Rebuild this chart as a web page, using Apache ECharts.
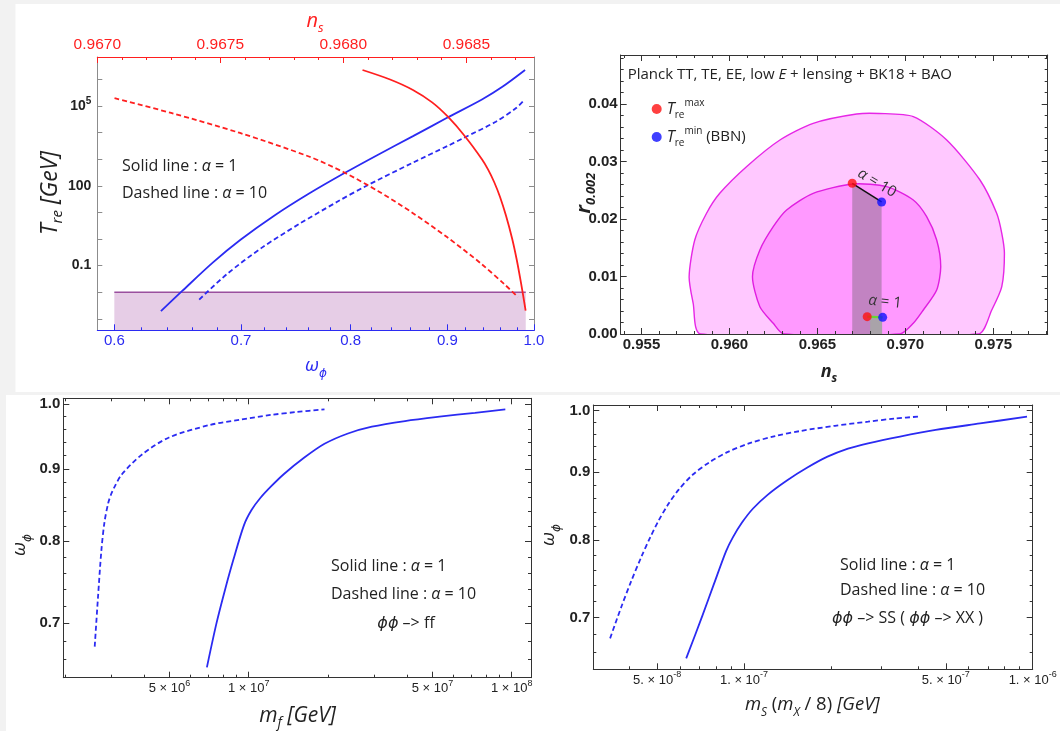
<!DOCTYPE html>
<html><head><meta charset="utf-8">
<script src="https://cdn.jsdelivr.net/npm/echarts@6/dist/echarts.min.js"></script>
<style>html,body{margin:0;padding:0;background:#f2f2f2;}#chart{width:1060px;height:731px;}</style>
</head><body><div id="chart"></div>
<script>
// ================= DATA =================
// --- Top-left: T_re vs n_s (red, top axis) and vs omega (blue, bottom axis)
const nsTopLabels = [0.9670, 0.9675, 0.9680, 0.9685];
const omegaLabels = [0.6, 0.7, 0.8, 0.9, 1.0];
const tReLabels = [0.1, 100, 1e5];
const redSolidNs = [0.968078,0.968190,0.968283,0.968361,0.968426,0.968495,0.968564,0.968588,0.968613,0.968637,0.968661,0.968686,0.968704,0.968722,0.968741];
const redSolidT  = [2.25e6,9.9e5,4.0e5,1.36e5,3.85e4,7.13e3,975,414,139,37.9,7.59,1.05,0.182,0.0230,0.00205];
const redDashNs  = [0.96707,0.96730,0.96758,0.96786,0.96800,0.96814,0.96828,0.96842,0.96856,0.96866,0.96871];
const redDashT   = [1.95e5,5.46e4,9.66e3,1.26e3,330,64.3,9.8,1.21,0.119,0.018,0.0065];
const blueSolidW = [0.6350,0.6517,0.6766,0.6996,0.7298,0.7609,0.7936,0.8276,0.8631,0.9001,0.9386,0.9627,0.9892];
const blueSolidT = [0.00196,0.0112,0.132,0.933,7.98,52.2,295,1510,7330,3.66e4,1.75e5,5.36e5,2.24e6];
const blueDashW  = [0.6653,0.6880,0.7175,0.7516,0.7870,0.8138,0.8631,0.9001,0.9173,0.9546,0.9789,0.9880];
const blueDashT  = [0.00527,0.0475,0.455,3.72,25.0,92.5,745,3130,6150,2.55e4,8.55e4,1.65e5];
const bbnBandW = [0.6, 0.99];
const bbnT = 0.01;

// --- Top-right: Planck contours (n_s, r)
const outerNs = [0.95836,0.95794,0.95771,0.95803,0.9587,0.95945,0.96097,0.96287,0.96476,0.96723,0.9685,0.97045,0.97235,0.97424,0.97519,0.97548,0.97563,0.97548,0.97491,0.97415];
const outerR  = [0,0.00534,0.00997,0.01635,0.021,0.02447,0.0291,0.03374,0.03664,0.03826,0.03835,0.0378,0.03374,0.02678,0.021,0.01751,0.01403,0.00823,0.00417,0];
const innerNs = [0.96309,0.96249,0.96173,0.96131,0.96173,0.96249,0.96325,0.96476,0.96704,0.96894,0.97045,0.97121,0.97178,0.97201,0.97178,0.97102,0.97045,0.96969];
const innerR  = [0,0.00186,0.00475,0.00997,0.01461,0.01866,0.02157,0.02447,0.02609,0.02562,0.0233,0.0204,0.01635,0.0117,0.00765,0.00417,0.00186,0];
const tMaxNs = [0.96698, 0.96783], tMaxR = [0.02621, 0.00301];   // alpha = 10, alpha = 1
const tMinNs = [0.96865, 0.96871], tMinR = [0.02296, 0.0029];
const smallBandNs = [0.9680, 0.96868], smallBandR = 0.0028;
const nsLabels = [0.955, 0.960, 0.965, 0.970, 0.975];
const rLabels = [0.00, 0.01, 0.02, 0.03, 0.04];

// --- Bottom-left: omega vs m_f
const mfDashM  = [2.597e6,2.673e6,2.754e6,2.829e6,2.923e6,2.995e6,3.075e6,3.290e6,3.930e6,4.977e6,7.10e6,9.27e6,1.210e7,1.527e7,1.942e7];
const mfDashW  = [0.6740,0.7307,0.7888,0.8253,0.8513,0.8631,0.8724,0.8917,0.9212,0.9470,0.9664,0.9748,0.9823,0.9871,0.9914];
const mfSolidM = [6.935e6,7.54e6,8.125e6,8.737e6,9.596e6,1.025e7,1.107e7,1.216e7,1.362e7,1.623e7,1.942e7,2.385e7,2.941e7,3.93e7,5.315e7,7.25e7,9.46e7];
const mfSolidW = [0.6517,0.7000,0.7391,0.7759,0.8213,0.8416,0.8582,0.8745,0.8924,0.9162,0.9373,0.9532,0.9638,0.9727,0.9796,0.9858,0.9914];
const mfLabels = [5e6, 1e7, 5e7, 1e8];

// --- Bottom-right: omega vs m_S
const msDashM  = [3.437e-8,3.758e-8,4.061e-8,4.418e-8,4.725e-8,5.056e-8,5.454e-8,5.94e-8,6.656e-8,7.574e-8,8.803e-8,1.046e-7,1.281e-7,1.569e-7,2.066e-7,2.691e-7,3.334e-7,4.087e-7];
const msDashW  = [0.6756,0.7131,0.7449,0.7781,0.8033,0.8271,0.8506,0.8728,0.8958,0.9147,0.9315,0.9455,0.9572,0.9656,0.9743,0.9812,0.9866,0.9901];
const msSolidM = [6.306e-8,7.177e-8,7.870e-8,8.670e-8,9.160e-8,9.842e-8,1.075e-7,1.210e-7,1.408e-7,1.652e-7,1.946e-7,2.292e-7,2.691e-7,3.470e-7,4.613e-7,6.570e-7,9.557e-7];
const msSolidW = [0.6526,0.7025,0.7420,0.7852,0.8043,0.8247,0.8449,0.8654,0.8867,0.9063,0.9238,0.9368,0.9454,0.9564,0.9673,0.9782,0.9897];
const msLabels = [5e-8, 1e-7, 5e-7, 1e-6];
const wLabels = [0.7, 0.8, 0.9, 1.0];

// ================= HELPERS =================
const lg = Math.log10;
const RED = '#ff1f1f', BLUE = '#2b2bf2', DARK = '#333333', GRAYF = '#8c8c8c', TXTC = '#222222';
const LBL = '"Liberation Sans", Arial, sans-serif';
const TXT = '"Open Sans", "DejaVu Sans", sans-serif';
const steps = (a, b, s) => { const r = []; const n = Math.round((b - a) / s); for (let i = 0; i <= n; i++) r.push(+(a + i * s).toFixed(8)); return r; };
const logTicks = (e0, e1, mants) => { const r = []; for (let e = e0; e <= e1; e++) mants.forEach(m => r.push(lg(m * Math.pow(10, e)))); return r; };
const zip = (xs, ys, fx, fy) => xs.map((x, i) => [fx ? fx(x) : x, fy ? fy(ys[i]) : ys[i]]);

const xAxis = [], yAxis = [];
function mkAxis(o) {
  return {
    type: 'value', gridIndex: o.grid, position: o.pos, min: o.min, max: o.max,
    splitLine: { show: false }, splitArea: { show: false }, silent: true,
    axisLine: { show: !!o.line, onZero: false, lineStyle: { color: o.color, width: 1 } },
    axisTick: { show: !!o.ticks, inside: true, length: o.len || 5, customValues: o.ticks || [], lineStyle: { color: o.color, width: 1 } },
    axisLabel: o.labels ? {
      show: true, customValues: o.labels, formatter: o.fmt, color: o.labelColor || o.color,
      fontFamily: LBL, fontSize: o.fontSize || 14, fontWeight: o.bold ? 'bold' : 'normal',
      margin: o.margin == null ? 4 : o.margin, hideOverlap: false, showMinLabel: true, showMaxLabel: true,
      rich: o.rich
    } : { show: false },
    z: 10
  };
}
function addAx(list, o) { list.push(mkAxis(o)); return list.length - 1; }
function matchLabel(vals, v) { let bi = 0, bd = 1e9; vals.forEach((u, i) => { const d = Math.abs(u - v); if (d < bd) { bd = d; bi = i; } }); return bi; }

// ================= GRIDS =================
const grids = [
  { left: 97.3, top: 57, width: 436.7, height: 273.3 },
  { left: 620.7, top: 55, width: 427, height: 279 },
  { left: 63.3, top: 398.3, width: 467.7, height: 279.4 },
  { left: 593.3, top: 405, width: 439.4, height: 264.3 }
].map(g => Object.assign({ show: false, containLabel: false, outerBoundsMode: 'none' }, g));

// ---- grid 0 axes
const g0wMin = lg(0.5877);
const g0x = addAx(xAxis, { grid: 0, pos: 'bottom', min: g0wMin, max: 0, line: true, color: BLUE, ticks: omegaLabels.map(lg), len: 6,
  labels: omegaLabels.map(lg), fmt: v => omegaLabels[matchLabel(omegaLabels.map(lg), v)].toFixed(1), margin: 3, fontSize: 15 });
addAx(xAxis, { grid: 0, pos: 'bottom', min: g0wMin, max: 0, line: false, color: BLUE, ticks: steps(0.6, 1.0, 0.02).map(lg), len: 3 });
const g0t = addAx(xAxis, { grid: 0, pos: 'top', min: 0.9670, max: 0.968775, line: true, color: RED, ticks: nsTopLabels, len: 6,
  labels: nsTopLabels, fmt: v => v.toFixed(4), margin: 4, fontSize: 15.5 });
addAx(xAxis, { grid: 0, pos: 'top', min: 0.9670, max: 0.968775, line: false, color: RED, ticks: steps(0.9670, 0.9687, 0.0001), len: 3 });
const supRich = (c, fs, bold) => ({
  n: { fontSize: fs, fontFamily: LBL, color: c, lineHeight: 20, fontWeight: bold ? 'bold' : 'normal' },
  s: { fontSize: Math.round(fs * 0.68), fontFamily: LBL, color: c, verticalAlign: 'top', fontWeight: bold ? 'bold' : 'normal' }
});
const g0y = addAx(yAxis, { grid: 0, pos: 'left', min: -3.43, max: 6.84, line: true, color: GRAYF, ticks: steps(-3, 6, 1), len: 5,
  labels: tReLabels.map(lg), labelColor: TXTC, margin: 6, rich: supRich(TXTC, 14, true),
  fmt: v => { const t = tReLabels[matchLabel(tReLabels.map(lg), v)]; return t >= 1e4 ? '{n|10}{s|' + Math.round(lg(t)) + '}' : '{n|' + t + '}'; } });
addAx(yAxis, { grid: 0, pos: 'right', min: -3.43, max: 6.84, line: true, color: GRAYF, ticks: steps(-3, 6, 1), len: 5 });

// ---- generic framed grid
function frame(gi, xr, yr, xMaj, xMin, yMaj, yMin, xo, yo) {
  const ix = addAx(xAxis, Object.assign({ grid: gi, pos: 'bottom', min: xr[0], max: xr[1], line: true, color: DARK, ticks: xMaj, len: 6, labelColor: TXTC }, xo));
  addAx(xAxis, { grid: gi, pos: 'bottom', min: xr[0], max: xr[1], line: false, color: DARK, ticks: xMin, len: 3 });
  addAx(xAxis, { grid: gi, pos: 'top', min: xr[0], max: xr[1], line: true, color: DARK, ticks: xMaj, len: 6 });
  addAx(xAxis, { grid: gi, pos: 'top', min: xr[0], max: xr[1], line: false, color: DARK, ticks: xMin, len: 3 });
  const iy = addAx(yAxis, Object.assign({ grid: gi, pos: 'left', min: yr[0], max: yr[1], line: true, color: DARK, ticks: yMaj, len: 6, labelColor: TXTC }, yo));
  addAx(yAxis, { grid: gi, pos: 'left', min: yr[0], max: yr[1], line: false, color: DARK, ticks: yMin, len: 3 });
  addAx(yAxis, { grid: gi, pos: 'right', min: yr[0], max: yr[1], line: true, color: DARK, ticks: yMaj, len: 6 });
  addAx(yAxis, { grid: gi, pos: 'right', min: yr[0], max: yr[1], line: false, color: DARK, ticks: yMin, len: 3 });
  return [ix, iy];
}

// ---- grid 1 (Planck)
const [g1x, g1y] = frame(1, [0.95382, 0.97809], [0, 0.04852], nsLabels, steps(0.954, 0.978, 0.001), rLabels, steps(0, 0.048, 0.002),
  { labels: nsLabels, fmt: v => v.toFixed(3), margin: 3, bold: true, fontSize: 15 },
  { labels: rLabels, fmt: v => v.toFixed(2), margin: 3, bold: true, fontSize: 15 });

// ---- grid 2 (m_f)
const wTickMaj = wLabels.map(lg), wTickMin = steps(0.64, 1.0, 0.02).map(lg);
const logFmt = (vals, dot) => v => { const t = vals[matchLabel(vals.map(lg), v)]; const e = Math.floor(lg(t) + 1e-9); const m = Math.round(t / Math.pow(10, e)); return '{n|' + m + (dot ? '.' : '') + ' × 10}{s|' + e + '}'; };
const [g2x, g2y] = frame(2, [6.295, 8.0735], [lg(0.6408), lg(1.0093)], mfLabels.map(lg), logTicks(6, 7, [2, 3, 4, 6, 7, 8, 9]), wTickMaj, wTickMin,
  { labels: mfLabels.map(lg), fmt: logFmt(mfLabels, false), margin: 1, rich: supRich(TXTC, 13, false) },
  { labels: wTickMaj, fmt: v => wLabels[matchLabel(wTickMaj, v)].toFixed(1), margin: 3, bold: true, fontSize: 15 });

// ---- grid 3 (m_S)
const [g3x, g3y] = frame(3, [-7.522, -6.0], [lg(0.6405), lg(1.0098)], msLabels.map(lg), logTicks(-8, -7, [2, 3, 4, 6, 7, 8, 9]), wTickMaj, wTickMin,
  { labels: msLabels.map(lg), fmt: logFmt(msLabels, true), margin: 1, rich: supRich(TXTC, 13, false) },
  { labels: wTickMaj, fmt: v => wLabels[matchLabel(wTickMaj, v)].toFixed(1), margin: 3, bold: true, fontSize: 15 });

// ================= SERIES =================
function line(xi, yi, data, color, dashed, width, z) {
  return { type: 'line', xAxisIndex: xi, yAxisIndex: yi, data, symbol: 'none', smooth: 0.3, silent: true, clip: true,
    lineStyle: { color, width: width || 1.8, type: dashed ? [5, 3] : 'solid', cap: 'butt' }, z: z || 4 };
}
function poly(xi, yi, pts, fill, stroke, z, smooth) {
  return { type: 'custom', xAxisIndex: xi, yAxisIndex: yi, data: pts, clip: true, silent: true, z,
    renderItem: (params, api) => {
      if (params.dataIndex !== 0) return null;
      return { type: 'polygon', shape: { points: pts.map(p => api.coord(p)), smooth: smooth || 0 },
        style: { fill, stroke: stroke || 'none', lineWidth: 1.4 } };
    } };
}

const series = [
  // top-left
  Object.assign(line(g0x, g0y, bbnBandW.map(w => [lg(w), lg(bbnT)]), '#9a4f9e', false, 1.3, 2),
    { smooth: false, areaStyle: { color: '#e6cde6', opacity: 1, origin: 'start' } }),
  line(g0x, g0y, zip(blueSolidW, blueSolidT, lg, lg), BLUE, false),
  line(g0x, g0y, zip(blueDashW, blueDashT, lg, lg), BLUE, true),
  line(g0t, g0y, zip(redSolidNs, redSolidT, null, lg), RED, false),
  line(g0t, g0y, zip(redDashNs, redDashT, null, lg), RED, true),
  // top-right
  poly(g1x, g1y, zip(outerNs, outerR), '#ffc8ff', '#e626e6', 2, 0.25),
  poly(g1x, g1y, zip(innerNs, innerR), '#ff99ff', '#e01ee0', 3, 0.25),
  poly(g1x, g1y, [[tMaxNs[0], 0], [tMaxNs[0], tMaxR[0]], [tMinNs[0], tMinR[0]], [tMinNs[0], 0]], 'rgba(110,100,110,0.42)', null, 4),
  poly(g1x, g1y, [[smallBandNs[0], 0], [smallBandNs[0], smallBandR], [smallBandNs[1], smallBandR], [smallBandNs[1], 0]], '#a9a3a9', null, 5),
  Object.assign(line(g1x, g1y, [[tMaxNs[0], tMaxR[0]], [tMinNs[0], tMinR[0]]], '#111111', false, 1.5, 6), { smooth: false }),
  Object.assign(line(g1x, g1y, [[tMaxNs[1], tMaxR[1]], [tMinNs[1], tMinR[1]]], '#66d633', false, 2.2, 6), { smooth: false }),
  { type: 'scatter', name: 'Tmax', xAxisIndex: g1x, yAxisIndex: g1y, data: zip(tMaxNs, tMaxR), symbolSize: 9, itemStyle: { color: '#ff1010' }, z: 8, silent: true },
  { type: 'scatter', name: 'Tmin', xAxisIndex: g1x, yAxisIndex: g1y, data: zip(tMinNs, tMinR), symbolSize: 9, itemStyle: { color: '#1010ff' }, z: 8, silent: true },
  // bottom-left
  line(g2x, g2y, zip(mfDashM, mfDashW, lg, lg), BLUE, true),
  line(g2x, g2y, zip(mfSolidM, mfSolidW, lg, lg), BLUE, false),
  // bottom-right
  line(g3x, g3y, zip(msDashM, msDashW, lg, lg), BLUE, true),
  line(g3x, g3y, zip(msSolidM, msSolidW, lg, lg), BLUE, false)
];

// ================= TEXT (graphic) =================
const f = (style, size, fam, weight) => (style || 'normal') + ' ' + (weight || 'normal') + ' ' + size + 'px ' + (fam || TXT);
function rt(c, size, opts) {
  opts = opts || {};
  const w = opts.bold ? 'bold' : 'normal';
  return {
    t: { font: f('normal', size, TXT, w), fill: c, lineHeight: size + 8 },
    i: { font: f('italic', size, TXT, w), fill: c, lineHeight: size + 8 },
    s: { font: f('italic', Math.round(size * 0.65), TXT, w), fill: c, verticalAlign: 'bottom' },
    u: { font: f('normal', Math.round(size * 0.65), TXT, w), fill: c, verticalAlign: 'bottom' },
    p: { font: f('normal', Math.round(size * 0.6), TXT, w), fill: c, verticalAlign: 'top' }
  };
}
function txt(x, y, text, rich, align, rot) {
  return { type: 'text', x, y, rotation: rot || 0, z: 100, silent: true,
    style: { text, rich, align: align || 'left', verticalAlign: 'middle', textAlign: align || 'left', textVerticalAlign: 'middle' } };
}
const annot = (x, y, s) => txt(x, y, s, rt(TXTC, 16));
const graphic = [
  { type: 'rect', shape: { x: 15.5, y: 4, width: 1044.5, height: 388 }, style: { fill: '#ffffff' }, z: -100, silent: true },
  { type: 'rect', shape: { x: 6, y: 395, width: 1054, height: 336 }, style: { fill: '#ffffff' }, z: -100, silent: true },
  // top-left
  txt(315, 21, '{i|n}{s|s}', rt(RED, 20), 'center'),
  txt(316, 366, '{i|ω}{s|ϕ}', rt(BLUE, 19), 'center'),
  txt(50, 193, '{i|T}{s|re}{i| [GeV]}', rt(TXTC, 23), 'center', Math.PI / 2),
  annot(122, 166, '{t|Solid line : }{i|α}{t| = 1}'),
  annot(122, 193.3, '{t|Dashed line : }{i|α}{t| = 10}'),
  // top-right
  txt(627.7, 75, '{t|Planck TT, TE, EE, low }{i|E}{t| + lensing + BK18 + BAO}', rt(TXTC, 15)),
  txt(877, 183, '{i|α}{t| = 10}', rt('#333', 15), 'center', -0.54),
  txt(885, 302, '{i|α}{t| = 1}', rt('#333', 15), 'center', -0.1),
  txt(584, 193, '{i|r}{s|0.002}', rt(TXTC, 20, { bold: true }), 'center', Math.PI / 2),
  txt(829, 371.7, '{i|n}{s|s}', rt(TXTC, 18, { bold: true }), 'center'),
  // bottom-left
  txt(20, 545, '{i|ω}{s|ϕ}', rt(TXTC, 19), 'center', Math.PI / 2),
  annot(331, 566.7, '{t|Solid line : }{i|α}{t| = 1}'),
  annot(331, 594.3, '{t|Dashed line : }{i|α}{t| = 10}'),
  txt(406, 623.3, '{i|ϕϕ}{t| –> ff}', rt(TXTC, 16), 'center'),
  txt(297.5, 716, '{i|m}{s|f}{i| [GeV]}', rt(TXTC, 21), 'center'),
  // bottom-right
  txt(549, 535, '{i|ω}{s|ϕ}', rt(TXTC, 19), 'center', Math.PI / 2),
  annot(840, 565, '{t|Solid line : }{i|α}{t| = 1}'),
  annot(840, 590, '{t|Dashed line : }{i|α}{t| = 10}'),
  annot(832, 618.3, '{i|ϕϕ}{t| –> SS ( }{i|ϕϕ}{t| –> XX )}'),
  txt(812.3, 705, '{i|m}{s|S}{t| (}{i|m}{s|X}{t| / 8) }{i|[GeV]}', rt(TXTC, 18.5), 'center')
];

// ================= CHART =================
const chart = echarts.init(document.getElementById('chart'), null, { renderer: 'canvas' });
chart.setOption({
  backgroundColor: '#f2f2f2',
  animation: false,
  grid: grids,
  xAxis, yAxis, series, graphic,
  legend: {
    show: true, data: ['Tmax', 'Tmin'], orient: 'vertical', left: 651.7, top: 98, padding: 0,
    itemWidth: 10, itemHeight: 10, itemGap: 6, icon: 'circle', selectedMode: false,
    formatter: n => n === 'Tmax' ? '{t|T}{b|re}{p|max}' : '{t|T}{b|re}{p|min}{u| (BBN)}',
    textStyle: { rich: {
      t: { fontSize: 16, fontStyle: 'italic', fontFamily: TXT, color: TXTC, lineHeight: 22 },
      b: { fontSize: 10, fontFamily: TXT, color: TXTC, verticalAlign: 'bottom' },
      p: { fontSize: 10, fontFamily: TXT, color: TXTC, verticalAlign: 'top' },
      u: { fontSize: 15, fontFamily: TXT, color: TXTC, lineHeight: 22 }
    } }
  }
});
</script>
</body></html>
